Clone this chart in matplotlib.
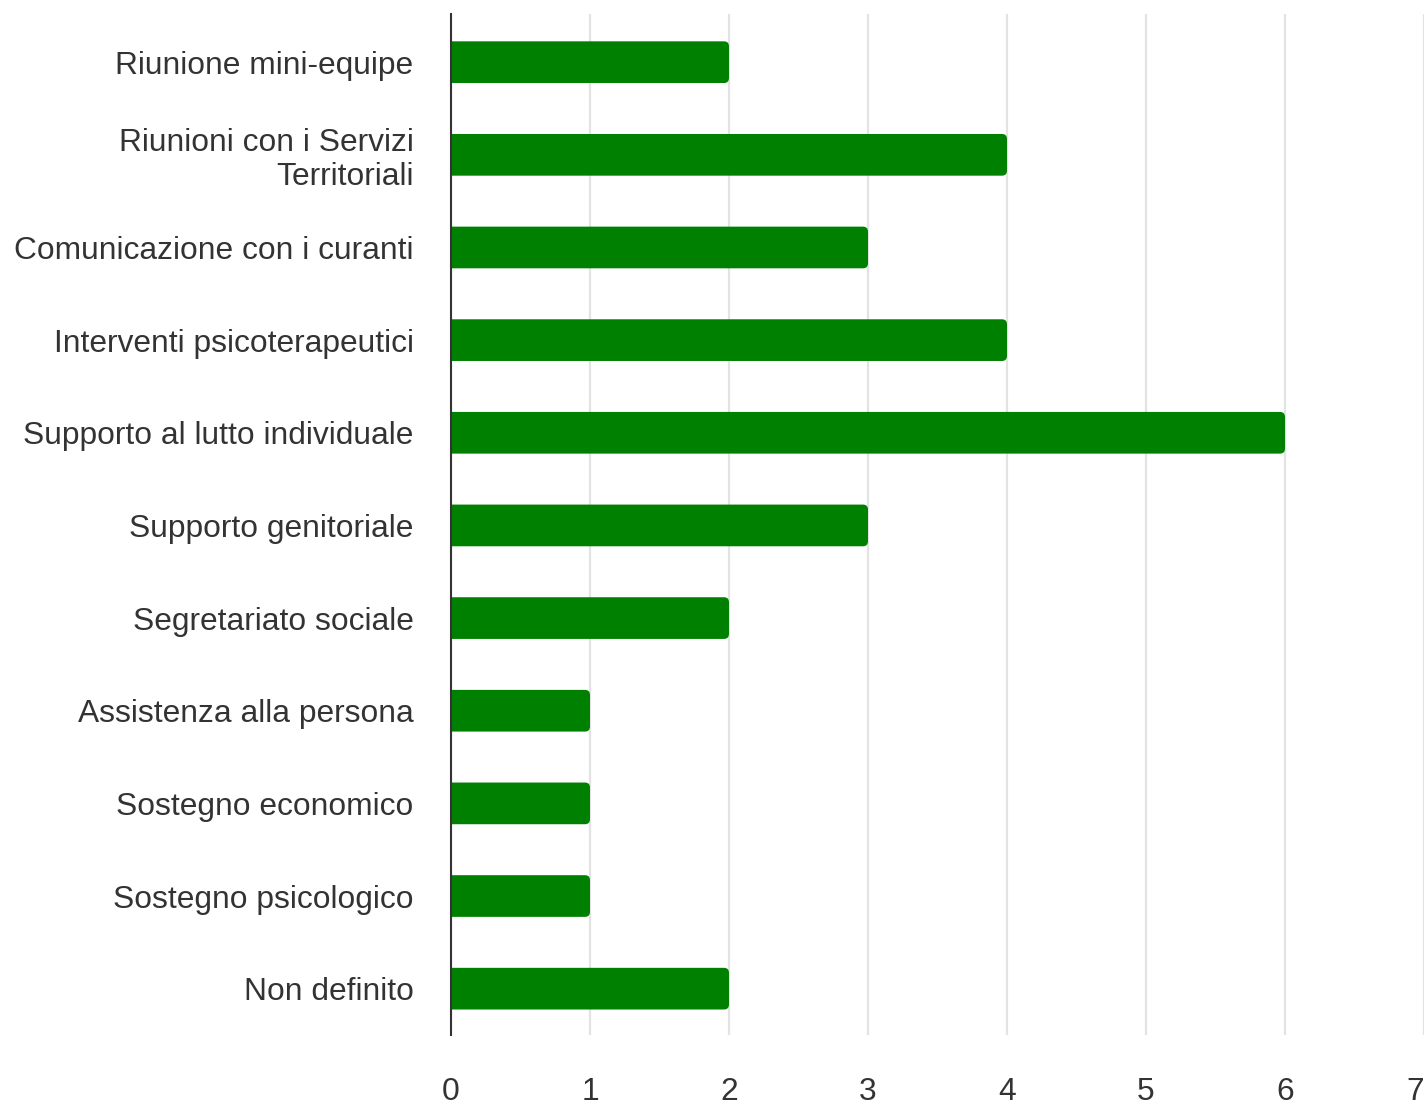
import matplotlib
matplotlib.use('Agg')
import matplotlib.pyplot as plt
from matplotlib.path import Path
from matplotlib.patches import PathPatch

plt.rcParams['font.family'] = ['Liberation Sans', 'DejaVu Sans']

categories = ['Riunione mini-equipe',
              'Riunioni con i Servizi\nTerritoriali',
              'Comunicazione con i curanti',
              'Interventi psicoterapeutici',
              'Supporto al lutto individuale',
              'Supporto genitoriale',
              'Segretariato sociale',
              'Assistenza alla persona',
              'Sostegno economico',
              'Sostegno psicologico',
              'Non definito']
values = [2, 4, 3, 4, 6, 3, 2, 1, 1, 1, 2]
xticks = [0, 1, 2, 3, 4, 5, 6, 7]

green = '#008000'
text_col = '#333333'

fig = plt.figure(figsize=(14.28, 11.09), dpi=100)
ax = fig.add_axes([451/1428, 1 - 1035/1109, (1424-451)/1428, (1035-14)/1109])

pos = list(range(len(categories)))
bars = ax.barh(pos, values, height=0.45, color=green, zorder=3)

# swap each bar for one with rounded right corners only
rx, ry = 0.036, 0.055
for b in bars:
    x, y = b.get_x(), b.get_y()
    w, h = b.get_width(), b.get_height()
    b.set_visible(False)
    x1, y1 = x + w, y + h
    verts = [(x, y), (x1 - rx, y), (x1, y), (x1, y + ry),
             (x1, y1 - ry), (x1, y1), (x1 - rx, y1), (x, y1), (x, y)]
    codes = [Path.MOVETO, Path.LINETO, Path.CURVE3, Path.CURVE3,
             Path.LINETO, Path.CURVE3, Path.CURVE3, Path.LINETO, Path.CLOSEPOLY]
    ax.add_patch(PathPatch(Path(verts, codes), fc=green, ec='none', zorder=3))

ax.set_xlim(0, 7)
ax.set_ylim(10.5, -0.52)
ax.set_xticks(xticks)
ax.set_xticklabels([str(t) for t in xticks])
ax.set_yticks(pos)
ax.set_yticklabels(categories, ha='right', linespacing=1.15)
ax.xaxis.grid(True, color='#e3e3e3', lw=1.6, zorder=0)
ax.tick_params(axis='both', length=0, labelsize=22.9, colors=text_col)
ax.tick_params(axis='y', pad=27)
ax.tick_params(axis='x', pad=30)
ax.get_xticklabels()[-1].set_ha('right')

for s in ['top', 'right', 'bottom']:
    ax.spines[s].set_visible(False)
ax.spines['left'].set_color('#333333')
ax.spines['left'].set_linewidth(1.5)
ax.spines['left'].set_zorder(4)

fig.savefig('out.png', dpi=100, facecolor='white')
